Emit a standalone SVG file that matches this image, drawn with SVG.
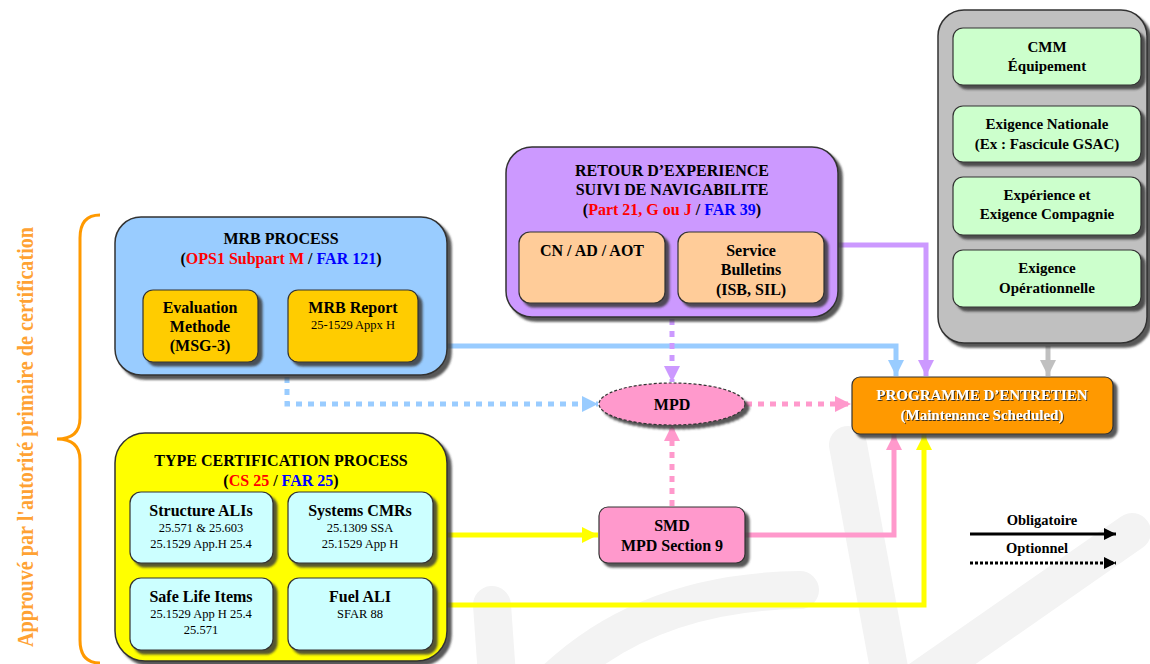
<svg xmlns="http://www.w3.org/2000/svg" width="1150" height="664" viewBox="0 0 1150 664">
<style>
text{font-family:"Liberation Serif","Times New Roman",serif;text-anchor:middle;fill:#000}
.b{font-weight:bold;font-size:16px}
.s{font-size:12.5px}
.red{fill:#ff0000}
.blue{fill:#0000ff}
.outer{stroke:#333;stroke-width:1.5}
.inner{stroke:#333;stroke-width:1.2}
.wm{fill:none;stroke:#f3f3f3;stroke-width:38;stroke-linecap:round}
.c{fill:none;stroke-width:5}
.dot{stroke-dasharray:6 6}
</style>
<defs>
<filter id="sh" x="-10%" y="-10%" width="130%" height="130%">
<feDropShadow dx="4" dy="4" stdDeviation="1.2" flood-color="#3a3a3a" flood-opacity="0.85"/>
</filter>
<filter id="tsh" x="-10%" y="-30%" width="120%" height="160%">
<feDropShadow dx="1" dy="1" stdDeviation="0.6" flood-color="#222" flood-opacity="0.9"/>
</filter>
<linearGradient id="topg" x1="0" x2="1" y1="0" y2="0">
<stop offset="0" stop-color="#ebe8dc" stop-opacity="0"/>
<stop offset="0.08" stop-color="#ebe8dc"/>
<stop offset="1" stop-color="#ebe8dc"/>
</linearGradient>
<marker id="aBlue" markerUnits="userSpaceOnUse" markerWidth="16" markerHeight="16" refX="16" refY="8" orient="auto"><path d="M0,0 L16,8 L0,16 z" fill="#99ccff"/></marker>
<marker id="aPurple" markerUnits="userSpaceOnUse" markerWidth="16" markerHeight="16" refX="16" refY="8" orient="auto"><path d="M0,0 L16,8 L0,16 z" fill="#cc99ff"/></marker>
<marker id="aPink" markerUnits="userSpaceOnUse" markerWidth="16" markerHeight="16" refX="16" refY="8" orient="auto"><path d="M0,0 L16,8 L0,16 z" fill="#ff99cc"/></marker>
<marker id="aYellow" markerUnits="userSpaceOnUse" markerWidth="16" markerHeight="16" refX="16" refY="8" orient="auto"><path d="M0,0 L16,8 L0,16 z" fill="#ffff00"/></marker>
<marker id="aGray" markerUnits="userSpaceOnUse" markerWidth="16" markerHeight="16" refX="16" refY="8" orient="auto"><path d="M0,0 L16,8 L0,16 z" fill="#c0c0c0"/></marker>
<marker id="aBlack" markerUnits="userSpaceOnUse" markerWidth="12" markerHeight="12" refX="12" refY="6" orient="auto"><path d="M0,0 L12,6 L0,12 z" fill="#000"/></marker>
</defs>
<rect width="1150" height="664" fill="#ffffff"/>
<line x1="190" y1="6" x2="940" y2="6" stroke="url(#topg)" stroke-width="3"/>
<g id="watermark">
<path class="wm" d="M492 605 L498 690"/>
<path class="wm" d="M545 690 Q640 592 800 590"/>
<path class="wm" d="M848 445 L893 690"/>
<path class="wm" d="M905 690 L1132 532"/>
</g>
<g id="brace">
<path d="M100 215 Q80 215 80 238 L80 418 Q80 439 57 439 Q80 439 80 460 L80 640 Q80 663 100 663" fill="none" stroke="#ff9900" stroke-width="3"/>
<text transform="translate(33 437) rotate(-90)" font-size="23" font-weight="bold" textLength="420" lengthAdjust="spacingAndGlyphs" style="fill:#ffa233">Approuvé par l'autorité primaire de certification</text>
</g>
<g id="connectors">
<path class="c" stroke="#99ccff" d="M447 346 H896 V376" marker-end="url(#aBlue)"/>
<path class="c" stroke="#cc99ff" d="M838 245 H926 V376" marker-end="url(#aPurple)"/>
<path class="c" stroke="#c0c0c0" d="M1048 346 V376" marker-end="url(#aGray)"/>
<path class="c dot" stroke="#99ccff" d="M287 377 V404 H598" marker-end="url(#aBlue)"/>
<path class="c dot" stroke="#cc99ff" d="M672 319 V382" marker-end="url(#aPurple)"/>
<path class="c dot" stroke="#ff99cc" d="M746 404 H851" marker-end="url(#aPink)"/>
<path class="c dot" stroke="#ff99cc" d="M672 506 V425" marker-end="url(#aPink)"/>
<path class="c" stroke="#ffff00" d="M447 535 H598" marker-end="url(#aYellow)"/>
<path class="c" stroke="#ff99cc" d="M745 535 H894 V434" marker-end="url(#aPink)"/>
<path class="c" stroke="#ffff00" d="M447 605 H924 V434" marker-end="url(#aYellow)"/>
<path fill="none" stroke="#000" stroke-width="3" d="M258 325 H287" marker-end="url(#aBlack)"/>
</g>
<g id="mrb-process">
<rect x="115" y="217" width="332" height="158" rx="26" fill="#99ccff" class="outer" filter="url(#sh)"/>
<text class="b" x="281" y="244">MRB PROCESS</text>
<text class="b" x="281" y="264">(<tspan class="red">OPS1 Subpart M</tspan> / <tspan class="blue">FAR 121</tspan>)</text>
</g>
<g id="evaluation-methode">
<rect x="143" y="290" width="115" height="72" rx="10" fill="#ffcc00" class="inner" filter="url(#sh)"/>
<text class="b" x="200" y="313">Evaluation</text>
<text class="b" x="200" y="332">Methode</text>
<text class="b" x="200" y="351">(MSG-3)</text>
</g>
<g id="mrb-report">
<rect x="288" y="290" width="130" height="72" rx="10" fill="#ffcc00" class="inner" filter="url(#sh)"/>
<text class="b" x="353" y="313">MRB Report</text>
<text class="s" x="353" y="329">25-1529 Appx H</text>
</g>
<g id="retour-experience">
<rect x="506" y="147" width="332" height="170" rx="26" fill="#cc99ff" class="outer" filter="url(#sh)"/>
<text class="b" x="672" y="176">RETOUR D’EXPERIENCE</text>
<text class="b" x="672" y="195">SUIVI DE NAVIGABILITE</text>
<text class="b" x="672" y="215">(<tspan class="red">Part 21, G ou J</tspan> / <tspan class="blue">FAR 39</tspan>)</text>
</g>
<g id="cn-ad-aot">
<rect x="519" y="232" width="146" height="71" rx="11" fill="#ffcc99" class="inner" filter="url(#sh)"/>
<text class="b" x="592" y="256">CN / AD / AOT</text>
</g>
<g id="service-bulletins">
<rect x="678" y="232" width="146" height="71" rx="11" fill="#ffcc99" class="inner" filter="url(#sh)"/>
<text class="b" x="751" y="256">Service</text>
<text class="b" x="751" y="275">Bulletins</text>
<text class="b" x="751" y="295">(ISB, SIL)</text>
</g>
<g id="exigences">
<rect x="938" y="10" width="209" height="333" rx="26" fill="#c0c0c0" class="outer" filter="url(#sh)"/>
</g>
<g id="cmm">
<rect x="953" y="28" width="188" height="57" rx="10" fill="#ccffcc" class="inner" filter="url(#sh)"/>
<text class="b" x="1047" y="52" style="font-size:15px">CMM</text>
<text class="b" x="1047" y="71" style="font-size:15px">Équipement</text>
</g>
<g id="exigence-nationale">
<rect x="953" y="106" width="188" height="56" rx="10" fill="#ccffcc" class="inner" filter="url(#sh)"/>
<text class="b" x="1047" y="129" style="font-size:15px">Exigence Nationale</text>
<text class="b" x="1047" y="149" style="font-size:15px">(Ex : Fascicule GSAC)</text>
</g>
<g id="experience-compagnie">
<rect x="953" y="177" width="188" height="58" rx="10" fill="#ccffcc" class="inner" filter="url(#sh)"/>
<text class="b" x="1047" y="200" style="font-size:15px">Expérience et</text>
<text class="b" x="1047" y="219" style="font-size:15px">Exigence  Compagnie</text>
</g>
<g id="exigence-operationnelle">
<rect x="953" y="250" width="188" height="57" rx="10" fill="#ccffcc" class="inner" filter="url(#sh)"/>
<text class="b" x="1047" y="273" style="font-size:15px">Exigence</text>
<text class="b" x="1047" y="293" style="font-size:15px">Opérationnelle</text>
</g>
<g id="programme-entretien">
<rect x="852" y="377" width="261" height="57" rx="8" fill="#ff9900" class="inner" filter="url(#sh)"/>
<g filter="url(#tsh)">
<text class="b" x="982" y="400" style="fill:#fff;font-size:15px">PROGRAMME D’ENTRETIEN</text>
<text class="b" x="982" y="420" style="fill:#fff;font-size:15px">(Maintenance Scheduled)</text>
</g>
</g>
<g id="mpd">
<ellipse cx="672" cy="404" rx="73" ry="21" fill="#ff99cc" stroke="#333" stroke-width="1.2" stroke-dasharray="3 2" filter="url(#sh)"/>
<text class="b" x="672" y="410">MPD</text>
</g>
<g id="type-certification">
<rect x="115" y="433" width="332" height="228" rx="30" fill="#ffff00" class="outer" filter="url(#sh)"/>
<text class="b" x="281" y="466">TYPE CERTIFICATION PROCESS</text>
<text class="b" x="281" y="486">(<tspan class="red">CS 25</tspan> / <tspan class="blue">FAR 25</tspan>)</text>
</g>
<g id="structure-alis">
<rect x="130" y="492" width="143" height="71" rx="11" fill="#ccffff" class="inner" filter="url(#sh)"/>
<text class="b" x="201" y="516">Structure ALIs</text>
<text class="s" x="201" y="532">25.571 &amp; 25.603</text>
<text class="s" x="201" y="548">25.1529 App.H 25.4</text>
</g>
<g id="systems-cmrs">
<rect x="288" y="492" width="145" height="71" rx="11" fill="#ccffff" class="inner" filter="url(#sh)"/>
<text class="b" x="360" y="516">Systems CMRs</text>
<text class="s" x="360" y="532">25.1309 SSA</text>
<text class="s" x="360" y="548">25.1529 App H</text>
</g>
<g id="safe-life-items">
<rect x="130" y="578" width="143" height="72" rx="11" fill="#ccffff" class="inner" filter="url(#sh)"/>
<text class="b" x="201" y="602">Safe Life Items</text>
<text class="s" x="201" y="618">25.1529 App H 25.4</text>
<text class="s" x="201" y="634">25.571</text>
</g>
<g id="fuel-ali">
<rect x="288" y="578" width="145" height="72" rx="11" fill="#ccffff" class="inner" filter="url(#sh)"/>
<text class="b" x="360" y="602">Fuel ALI</text>
<text class="s" x="360" y="618">SFAR 88</text>
</g>
<g id="smd">
<rect x="599" y="507" width="146" height="56" rx="9" fill="#ff99cc" class="inner" filter="url(#sh)"/>
<text class="b" x="672" y="531">SMD</text>
<text class="b" x="672" y="551">MPD Section 9</text>
</g>
<g id="legend">
<text class="b" x="1042" y="525" style="font-size:14.5px">Obligatoire</text>
<path d="M970 534 H1116" stroke="#000" stroke-width="3" fill="none" marker-end="url(#aBlack)"/>
<text class="b" x="1037" y="553" style="font-size:14.5px">Optionnel</text>
<path d="M970 563 H1116" stroke="#000" stroke-width="3" stroke-dasharray="3 2" fill="none" marker-end="url(#aBlack)"/>
</g>
</svg>
